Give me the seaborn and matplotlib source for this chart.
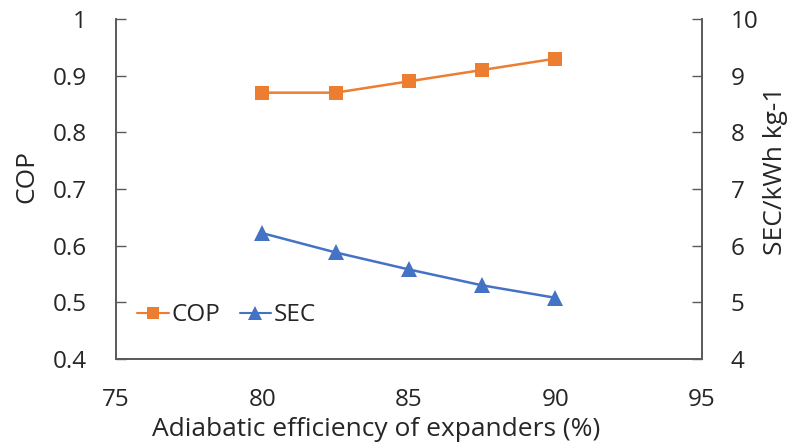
import matplotlib
matplotlib.use("Agg")
import matplotlib.pyplot as plt
import seaborn as sns
import pandas as pd
from matplotlib.lines import Line2D

efficiency = [80, 82.5, 85, 87.5, 90]
cop = [0.87, 0.87, 0.89, 0.91, 0.93]
sec = [6.22, 5.88, 5.58, 5.30, 5.08]
x_ticks = [75, 80, 85, 90, 95]
cop_ticks = [0.4, 0.5, 0.6, 0.7, 0.8, 0.9, 1.0]
cop_tick_labels = ["0.4", "0.5", "0.6", "0.7", "0.8", "0.9", "1"]
sec_ticks = [4, 5, 6, 7, 8, 9, 10]

sns.set_theme(style="white")
plt.rcParams['font.family'] = ['Open Sans', 'DejaVu Sans']

df = pd.DataFrame({"eff": efficiency, "COP": cop, "SEC": sec})

fig = plt.figure(figsize=(7.92, 4.48), dpi=100)
ax = fig.add_axes([0.1465, 0.1987, 0.7395, 0.7589])
ax2 = ax.twinx()

orange = "#ED7D31"
blue = "#4472C4"
fs = 17.5
lfs = 19

sns.lineplot(data=df, x="eff", y="COP", ax=ax, color=orange, marker="s",
             markersize=10, markeredgewidth=0, linewidth=1.8)
sns.lineplot(data=df, x="eff", y="SEC", ax=ax2, color=blue, marker="^",
             markersize=11, markeredgewidth=0, linewidth=1.8)

ax.set_xlim(75, 95)
ax.set_ylim(0.4, 1.0)
ax2.set_ylim(4, 10)
ax.set_xticks(x_ticks)
ax.set_xticklabels([str(v) for v in x_ticks])
ax.set_yticks(cop_ticks)
ax.set_yticklabels(cop_tick_labels)
ax2.set_yticks(sec_ticks)
ax2.set_yticklabels([str(v) for v in sec_ticks])

for a in (ax, ax2):
    for s in a.spines.values():
        s.set_color("#595959")
        s.set_linewidth(1.2)
    a.spines["top"].set_visible(False)

ax.tick_params(axis="both", direction="in", length=7, width=1.0, color="#595959",
               labelsize=fs)
ax.tick_params(axis="y", pad=21)
ax.tick_params(axis="x", pad=21)
ax2.tick_params(axis="y", direction="in", length=7, width=1.0, color="#595959",
                labelsize=fs, pad=21)

ax.set_xlabel("Adiabatic efficiency of expanders (%)", fontsize=lfs, va="center", ha="center")
ax.xaxis.set_label_coords(0.444, -0.207)
ax.set_ylabel("COP", fontsize=lfs, va="center", ha="center")
ax.yaxis.set_label_coords(-0.152, 0.538)
ax2.set_ylabel("SEC/kWh kg-1", fontsize=lfs, va="center", ha="center")
ax2.yaxis.set_label_coords(1.126, 0.553)

handles = [Line2D([], [], color=orange, marker="s", markersize=9, markeredgewidth=0, linewidth=1.5),
           Line2D([], [], color=blue, marker="^", markersize=10, markeredgewidth=0, linewidth=1.5)]
ax.legend(handles, ["COP", "SEC"], loc="lower left", bbox_to_anchor=(0.02, 0.065),
          ncol=2, frameon=False, fontsize=fs, handlelength=1.3, handletextpad=0.1,
          columnspacing=0.8, borderaxespad=0)

fig.savefig("out.png", dpi=100)
